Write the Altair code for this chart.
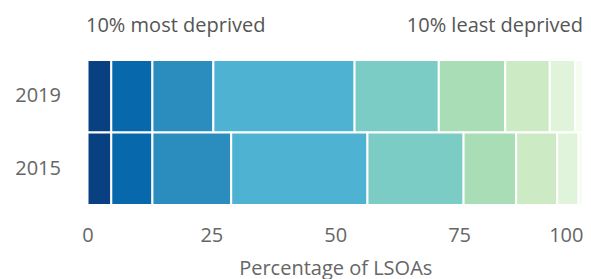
import altair as alt
import pandas as pd

years = ["2019", "2015"]
deciles = [1, 2, 3, 4, 5, 6, 7, 8, 9, 10]
values_2019 = [4.8, 8.3, 12.3, 28.5, 17.0, 13.4, 9.0, 5.1, 1.6, 0.0]
values_2015 = [4.8, 8.3, 15.9, 27.5, 19.4, 10.6, 8.3, 4.3, 0.9, 0.0]
colors = ["#084081", "#0868ac", "#2b8cbe", "#4eb3d3", "#7bccc4",
          "#a8ddb5", "#ccebc5", "#e0f3db", "#f7fcf0", "#ffffe5"]
x_ticks = [0, 25, 50, 75, 100]
end_labels = ["10% most deprived", "10% least deprived"]
end_positions = [0, 100]

rows = []
for yr, vals in zip(years, [values_2019, values_2015]):
    for d, v in zip(deciles, vals):
        rows.append({"year": yr, "decile": d, "pct": v})
df = pd.DataFrame(rows)
ann = pd.DataFrame({"label": end_labels, "pos": end_positions})

FONT = "Open Sans"

bars = alt.Chart(df).mark_bar(stroke="white", strokeWidth=2).encode(
    x=alt.X("pct:Q", stack="zero",
            scale=alt.Scale(domain=[0, 100], nice=False),
            axis=alt.Axis(values=x_ticks, title="Percentage of LSOAs", grid=False,
                          domain=False, ticks=False, labelPadding=20,
                          labelFont=FONT, labelFontSize=20, labelColor="#666666",
                          labelAlign={"condition": {"test": "datum.value == 100", "value": "right"},
                                      "value": "center"},
                          titleFont=FONT, titleFontSize=20, titleFontWeight="normal",
                          titleColor="#666666", titleBaseline="alphabetic", titleY=69)),
    y=alt.Y("year:N", sort=years,
            scale=alt.Scale(paddingInner=0, paddingOuter=0),
            axis=alt.Axis(title=None, domain=False, ticks=False, labelPadding=27,
                          labelFont=FONT, labelFontSize=20, labelColor="#666666")),
    color=alt.Color("decile:O", scale=alt.Scale(domain=deciles, range=colors), legend=None),
    order=alt.Order("decile:Q", sort="ascending"),
)

left_txt = alt.Chart(ann[ann["pos"] == 0]).mark_text(
    align="left", baseline="alphabetic", font=FONT, fontSize=20, color="#555555", dx=-1.5
).encode(x=alt.X("pos:Q"), y=alt.value(-28.3), text="label:N")

right_txt = alt.Chart(ann[ann["pos"] == 100]).mark_text(
    align="right", baseline="alphabetic", font=FONT, fontSize=20, color="#555555", dx=0
).encode(x=alt.X("pos:Q"), y=alt.value(-28.3), text="label:N")

chart = alt.layer(bars, left_txt, right_txt).properties(
    width=495.5, height=145,
    autosize=alt.AutoSizeParams(type="none"),
    padding={"left": 79.5, "top": 52, "right": 0, "bottom": 74},
).configure_view(stroke=None)

chart.save("out.html", embed_options={"renderer": "svg", "actions": False})
